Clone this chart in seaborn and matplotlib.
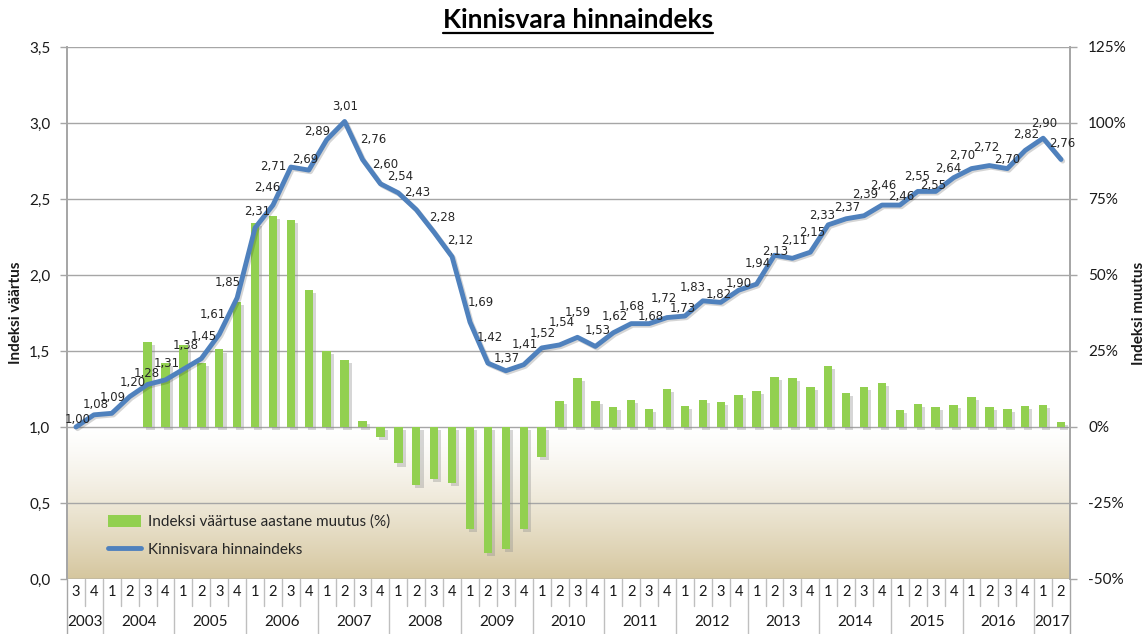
import numpy as np
import pandas as pd
import seaborn as sns
import matplotlib
matplotlib.use("Agg")
import matplotlib.pyplot as plt
from matplotlib.patches import Patch
from matplotlib.lines import Line2D
import matplotlib.patheffects as pe
import matplotlib.transforms as mtransforms

# ---------------- data ----------------
year_labels = ["2003", "2004", "2005", "2006", "2007", "2008", "2009", "2010",
               "2011", "2012", "2013", "2014", "2015", "2016", "2017"]
quarters_per_year = [2, 4, 4, 4, 4, 4, 4, 4, 4, 4, 4, 4, 4, 4, 2]
quarter_labels = ["3", "4"] + ["1", "2", "3", "4"] * 13 + ["1", "2"]

index_values = [1.00, 1.08,
                1.09, 1.20, 1.28, 1.31,
                1.38, 1.45, 1.61, 1.85,
                2.31, 2.46, 2.71, 2.69,
                2.89, 3.01, 2.76, 2.60,
                2.54, 2.43, 2.28, 2.12,
                1.69, 1.42, 1.37, 1.41,
                1.52, 1.54, 1.59, 1.53,
                1.62, 1.68, 1.68, 1.72,
                1.73, 1.83, 1.82, 1.90,
                1.94, 2.13, 2.11, 2.15,
                2.33, 2.37, 2.39, 2.46,
                2.46, 2.55, 2.55, 2.64,
                2.70, 2.72, 2.70, 2.82,
                2.90, 2.76]

annual_change = [np.nan, np.nan,
                 np.nan, np.nan, 28, 21,
                 27, 21, 25.5, 41,
                 67, 69.5, 68, 45,
                 25, 22, 2, -3.3,
                 -12, -19, -17, -18.5,
                 -33.5, -41.5, -40, -33.5,
                 -10, 8.5, 16, 8.5,
                 6.5, 9, 6, 12.5,
                 7, 9, 8.3, 10.5,
                 12, 16.5, 16, 13.2,
                 20, 11.3, 13.3, 14.4,
                 5.6, 7.6, 6.7, 7.3,
                 9.8, 6.7, 6, 6.8,
                 7.4, 1.5]

title = "Kinnisvara hinnaindeks"
bar_label = "Indeksi väärtuse aastane muutus (%)"
line_label = "Kinnisvara hinnaindeks"
left_ylabel = "Indeksi väärtus"
right_ylabel = "Indeksi muutus"

# label placement offsets (pixels: dx right, dy up) -- styling only
label_dx = [2, 2, 1, 3, -1, 1, 2, 2, -6, -9, 2, -6, -18, -4, -10, 1,
            11, 5, 2, 1, 8, 8, 11, 2, 1, 1, 1, 2, 0, 2, 2, 1,
            2, -3, -2, -10, -2, 0, 1, 1, 2, 2, -6, 1, 1, 1,
            1, -1, -3, -5, -9, -3, 0, 1, 1, 1]
label_dy = [8, 10, 16, 14, 11, 16, 24, 22, 20, 15, 16, 18, 1, 11, 8, 15,
            20, 19, 16, 17, 15, 16, 20, 26, 12, 20, 14, 22, 25, 16, 16, 17,
            7, 19, 8, 13, 8, 7, 21, 4, 18, 20, 9, 11, 21, 20,
            9, 15, 6, 9, 13, 18, 9, 16, 15, 16]

# ---------------- styling ----------------
sns.set_theme(style="white")
plt.rcParams["font.family"] = ["Lato", "DejaVu Sans"]

GREEN = "#92d050"
BLUE = "#4f81bd"
GRID = "#a6a6a6"
TXT = "#1a1a1a"

n = len(index_values)
df = pd.DataFrame({"pos": np.arange(n), "index": index_values, "change": annual_change})

W, H = 1147, 634
fig = plt.figure(figsize=(W / 100, H / 100), dpi=100)
L, R, T, B = 67, 1070, 47, 579
ax = fig.add_axes([L / W, 1 - B / H, (R - L) / W, (B - T) / H])
ax2 = ax.twinx()

# background gradient (below index 1.0 / 0 %)
grad = np.linspace(0, 1, 256).reshape(-1, 1) ** 1.3
top_c = np.array([1.0, 1.0, 1.0])
bot_c = np.array([213, 198, 158]) / 255
img = top_c * (1 - grad[..., None]) + bot_c * grad[..., None]
ax2.imshow(img, extent=(-0.5, n - 0.5, -50, 0), aspect="auto", origin="upper", zorder=0)

# bars (annual change, right axis)
sns.barplot(data=df, x="pos", y="change", native_scale=True, color=GREEN,
            saturation=1, width=0.47, errorbar=None, ax=ax2, zorder=2, linewidth=0)
for p in ax2.patches:
    p.set_path_effects([pe.SimplePatchShadow(offset=(2.2, -2.2), shadow_rgbFace="#8c8c8c", alpha=0.35),
                        pe.Normal()])

# line (index, left axis)
sns.lineplot(data=df, x="pos", y="index", color=BLUE, lw=3.5, ax=ax, zorder=3,
             path_effects=[pe.SimpleLineShadow(offset=(1.2, -1.2), alpha=0.18), pe.Normal()])

ax.set_zorder(ax2.get_zorder() + 1)
ax.patch.set_visible(False)

for i, v in enumerate(index_values):
    ax.annotate(f"{v:.2f}".replace(".", ","), (i, v), xytext=(label_dx[i], label_dy[i]),
                textcoords="offset pixels", ha="center", va="center",
                fontsize=8.5, color="#262626", family=["DejaVu Sans"], zorder=5)

# axes limits / ticks
ax.set_xlim(-0.5, n - 0.5)
ax2.set_xlim(-0.5, n - 0.5)
ax.set_ylim(0, 3.5)
ax2.set_ylim(-50, 125)
lt = np.arange(0, 3.51, 0.5)
ax.set_yticks(lt)
ax.set_yticklabels([f"{t:.1f}".replace(".", ",") for t in lt], fontsize=11, color=TXT)
rt = np.arange(-50, 126, 25)
ax2.set_yticks(rt)
ax2.set_yticklabels([f"{t}%" for t in rt], fontsize=11, color=TXT)
ax.set_xticks([])
ax2.set_xticks([])
ax.set_xlabel("")
ax.set_ylabel("")
ax2.set_xlabel("")
ax2.set_ylabel("")
ax.tick_params(axis="y", left=True, length=5, width=1, color=GRID, pad=7)
ax2.tick_params(axis="y", right=True, length=5, width=1, color=GRID, pad=8)
ax2.yaxis.grid(True, color=GRID, lw=1)
ax2.set_axisbelow(True)
for a in (ax, ax2):
    for s in ("top", "bottom"):
        a.spines[s].set_visible(False)
    a.spines["left"].set_color(GRID)
    a.spines["right"].set_color(GRID)
ax2.axhline(-50, color=GRID, lw=1, zorder=1)

# two-level category axis
trans = mtransforms.blended_transform_factory(ax.transData, ax.transAxes)
ph = B - T
q_row = -27 / ph
y_row = -(H - B) / ph
year_starts = np.cumsum([0] + quarters_per_year)
for i in range(n):
    ax.text(i, q_row / 2, quarter_labels[i], transform=trans, ha="center", va="center",
            fontsize=10.5, color=TXT)
for i in range(1, n):
    x = i - 0.5
    full = i in year_starts
    ax.plot([x, x], [0, y_row if full else q_row], transform=trans, clip_on=False,
            color="#bfbfbf", lw=1)
for x in (-0.5, n - 0.5):
    ax.plot([x, x], [0, y_row], transform=trans, clip_on=False, color=GRID, lw=1)
for k, lab in enumerate(year_labels):
    c = (year_starts[k] + year_starts[k + 1] - 1) / 2
    ax.text(c, (q_row + y_row) / 2 - 0.004, lab, transform=trans, ha="center", va="center",
            fontsize=11, color=TXT)

# legend
handles = [Patch(facecolor=GREEN, edgecolor="none"),
           Line2D([0], [0], color=BLUE, lw=3.5)]
ax.legend(handles, [bar_label, line_label], loc="upper left",
          bbox_to_anchor=(0.027, 0.147), frameon=False, fontsize=11,
          handlelength=2.2, handleheight=0.9, labelspacing=0.85, handletextpad=0.4)

# axis titles
fig.text(16 / W, 1 - 313 / H, left_ylabel, rotation=90, ha="center", va="center",
         fontsize=11, fontweight="bold", color=TXT)
fig.text(1139 / W, 1 - 313 / H, right_ylabel, rotation=90, ha="center", va="center",
         fontsize=11, fontweight="bold", color=TXT)

# title with underline
tt = fig.text(578 / W, 1 - 20 / H, title, ha="center", va="center", fontsize=19,
              fontweight="bold", color="black")
fig.canvas.draw()
bb = tt.get_window_extent(renderer=fig.canvas.get_renderer())
uy = bb.y0 - 1
fig.add_artist(Line2D([bb.x0 / W, bb.x1 / W], [uy / H, uy / H], transform=fig.transFigure,
                      color="black", lw=1.6))

fig.savefig("out.png", dpi=100, facecolor="white")
